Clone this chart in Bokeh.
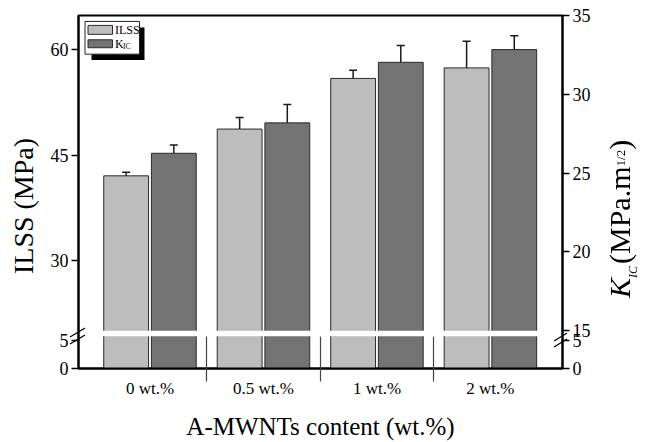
from bokeh.plotting import figure
from bokeh.layouts import row
from bokeh.models import (ColumnDataSource, Range1d, LinearAxis, FixedTicker,
                          CustomJSTickFormatter, Whisker, TeeHead, BoxAnnotation,
                          Label, Div)
from bokeh.embed import file_html
from bokeh.resources import INLINE

# ---------------- data ----------------
categories = ["0 wt.%", "0.5 wt.%", "1 wt.%", "2 wt.%"]
ilss = [42.05, 48.7, 55.9, 57.4]
ilss_err = [0.52, 1.65, 1.17, 3.78]
kic = [26.26, 28.19, 32.03, 32.84]
kic_err = [0.52, 1.16, 1.07, 0.88]
ilss_ticks = [30, 45, 60]
kic_ticks = [15, 20, 25, 30, 35]
lower_ticks = [0, 5]
lower_labels = ["0", "5"]

# ---------------- layout (page pixels) ----------------
PW, PH, DW = 600, 442, 45
FL, FR, FT, FB = 78, 562, 15, 371
X_RANGE = (-0.63, 3.635)
YL = (14.65, 64.85)     # left axis (ILSS) range over the whole frame
YR = (12.61, 35.0)      # right axis (K_IC) range over the whole frame
LOWER_PX = 5.6          # px per unit on the lower (0-5) segment
FONT = "Liberation Serif"

def xd(px):
    return X_RANGE[0] + (px - FL) * (X_RANGE[1] - X_RANGE[0]) / (FR - FL)

def yd(py):
    return YL[1] - (py - FT) * (YL[1] - YL[0]) / (FB - FT)

def lower_pos(rng, v):
    return rng[0] + v * LOWER_PX * (rng[1] - rng[0]) / (FB - FT) + 1e-6

p = figure(width=PW, height=PH, x_range=Range1d(*X_RANGE), y_range=Range1d(*YL),
           output_backend="svg", toolbar_location=None, title=None,
           min_border_left=FL, min_border_right=PW - FR, min_border_top=FT,
           min_border_bottom=PH - FB)
p.extra_y_ranges = {"k": Range1d(*YR)}
p.xgrid.visible = False
p.ygrid.visible = False
p.outline_line_color = "black"
p.outline_line_width = 2
p.outline_line_alpha = 1
p.background_fill_color = "white"
p.border_fill_color = "white"

def fmt(rng):
    pos = [lower_pos(rng, v) for v in lower_ticks]
    return pos, CustomJSTickFormatter(args=dict(pos=pos, lab=lower_labels), code="""
        for (let i = 0; i < pos.length; i++) {
            if (Math.abs(tick - pos[i]) < 1e-3) return lab[i];
        }
        return tick.toFixed(0);
    """)

def style_y(ax):
    ax.axis_line_width = 2
    ax.major_tick_line_width = 1.5
    ax.major_tick_out = 7
    ax.major_tick_in = 0
    ax.minor_tick_out = 0
    ax.minor_tick_in = 0
    ax.major_label_text_font = FONT
    ax.major_label_text_font_size = "18px"
    ax.major_label_text_color = "black"
    ax.major_label_standoff = 3

lpos, lfmt = fmt(YL)
lax = p.yaxis[0]
lax.ticker = FixedTicker(ticks=lpos + ilss_ticks)
lax.formatter = lfmt
style_y(lax)
# trailing no-break spaces shift the centred title slightly toward the bottom, as in the original
lax.axis_label = "ILSS (MPa)" + "\u00a0" * 4
lax.axis_label_text_font = FONT
lax.axis_label_text_font_size = "28px"
lax.axis_label_text_font_style = "normal"
lax.axis_label_text_color = "black"
lax.axis_label_standoff = 9

rpos, rfmt = fmt(YR)
rax = LinearAxis(y_range_name="k", ticker=FixedTicker(ticks=rpos + kic_ticks), formatter=rfmt)
style_y(rax)
p.add_layout(rax, "right")

xs = list(range(len(categories)))
dividers = [i + 0.5 for i in xs[:-1]]
bax = p.xaxis[0]
bax.ticker = FixedTicker(ticks=xs, minor_ticks=dividers)
bax.major_label_overrides = {i: c for i, c in zip(xs, categories)}
bax.axis_line_width = 2
bax.major_tick_in = 0
bax.major_tick_out = 0
bax.minor_tick_in = 32
bax.minor_tick_out = 13
bax.minor_tick_line_width = 1.2
bax.minor_tick_line_color = "#444444"
bax.major_label_text_font = FONT
bax.major_label_text_font_size = "17px"
bax.major_label_text_color = "black"
bax.major_label_standoff = -3
bax.axis_label = "A-MWNTs content (wt.%)"
bax.axis_label_text_font = FONT
bax.axis_label_text_font_size = "25px"
bax.axis_label_text_font_style = "normal"
bax.axis_label_text_color = "black"
bax.axis_label_standoff = 12

OFF, W = 0.21, 0.395
src = ColumnDataSource(dict(
    xi=[x - OFF for x in xs], xk=[x + OFF for x in xs],
    ilss=ilss, kic=kic,
    il_up=[v + e for v, e in zip(ilss, ilss_err)], il_lo=[v - e for v, e in zip(ilss, ilss_err)],
    k_up=[v + e for v, e in zip(kic, kic_err)], k_lo=[v - e for v, e in zip(kic, kic_err)],
))

p.vbar(x="xi", width=W, bottom=YL[0], top="ilss", source=src,
       fill_color="#bdbdbd", line_color="#2b2b2b", line_width=1)
p.vbar(x="xk", width=W, bottom=YR[0], top="kic", source=src, y_range_name="k",
       fill_color="#737373", line_color="#2b2b2b", line_width=1)

# axis break band
p.add_layout(BoxAnnotation(left=xd(99), right=xd(540), bottom=yd(338.5), top=yd(333),
                           fill_color="white", fill_alpha=1, line_alpha=0))

def head():
    return TeeHead(size=8, line_width=1.5, line_color="#1a1a1a")

p.add_layout(Whisker(source=src, base="xi", upper="il_up", lower="il_lo",
                     line_width=1.5, line_color="#1a1a1a", upper_head=head(), lower_head=head()))
p.add_layout(Whisker(source=src, base="xk", upper="k_up", lower="k_lo", y_range_name="k",
                     line_width=1.5, line_color="#1a1a1a", upper_head=head(), lower_head=head()))

# legend
p.add_layout(BoxAnnotation(left=xd(91), right=xd(144), top=yd(27), bottom=yd(60),
                           fill_color="black", fill_alpha=1, line_alpha=0))
p.add_layout(BoxAnnotation(left=xd(84.5), right=xd(139), top=yd(21), bottom=yd(54),
                           fill_color="white", fill_alpha=1, line_color="#222222",
                           line_width=1, line_alpha=1))
p.add_layout(BoxAnnotation(left=xd(87.5), right=xd(112), top=yd(25), bottom=yd(34),
                           fill_color="#bdbdbd", fill_alpha=1, line_color="#2b2b2b",
                           line_width=1, line_alpha=1))
p.add_layout(BoxAnnotation(left=xd(87.5), right=xd(112), top=yd(39.5), bottom=yd(47.5),
                           fill_color="#737373", fill_alpha=1, line_color="#2b2b2b",
                           line_width=1, line_alpha=1))

def lab(text, px, py, size):
    p.add_layout(Label(x=xd(px), y=yd(py), text=text, text_font=FONT, text_font_size=size,
                       text_align="left", text_baseline="middle", text_color="black"))

lab("ILSS", 114.5, 29.5, "12px")
lab("K", 114.5, 43.5, "12px")
lab("IC", 122.5, 46.5, "7.5px")

# right-hand axis title (rich text) and axis-break marks, placed over the page
def seg(x1, y1, x2, y2):
    return (f'<line x1="{x1}" y1="{y1}" x2="{x2}" y2="{y2}" '
            f'stroke="black" stroke-width="1.3"/>')

breaks = "".join([
    seg(70, 337, 85, 328), seg(70, 344, 85, 335),
    seg(554, 341, 567, 333), seg(554, 347, 567, 339),
])
div_html = f"""
<div style="position:fixed; left:0; top:0; width:0; height:0; overflow:visible; z-index:10;">
  <svg style="position:absolute; left:0; top:0; overflow:visible; pointer-events:none;"
       width="645" height="442">{breaks}</svg>
  <div style="position:absolute; left:0; top:0; transform-origin:0 0;
              transform:translate(605px, 298px) rotate(-90deg); white-space:nowrap;
              font-family:'{FONT}'; font-size:30px; line-height:30px; color:#000;"
  ><i>K</i><sub style="font-size:12px; vertical-align:-7px; line-height:0; margin-right:2px;"
  ><i>IC</i></sub>(MPa.m<sup style="font-size:13px; vertical-align:5px; line-height:0;"
  >1/2</sup>)</div>
</div>
"""
div = Div(text=div_html, width=DW, height=PH)

layout = row(p, div)
open("out.html", "w").write(file_html(layout, INLINE))
